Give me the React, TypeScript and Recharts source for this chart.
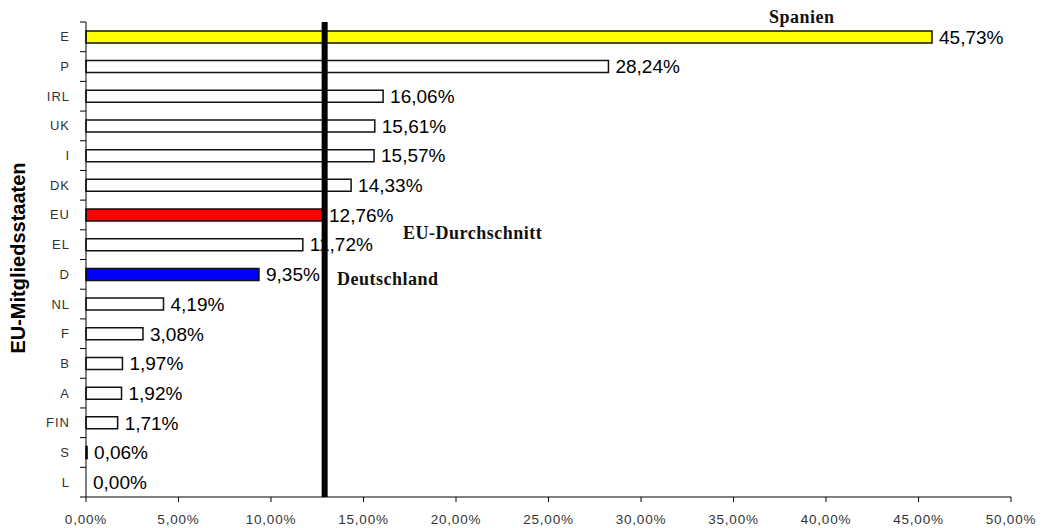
import { BarChart, Bar, XAxis, YAxis, Cell, LabelList, ReferenceLine, ReferenceDot } from "recharts";

const countries = ["E", "P", "IRL", "UK", "I", "DK", "EU", "EL", "D", "NL", "F", "B", "A", "FIN", "S", "L"];
const shares = [45.73, 28.24, 16.06, 15.61, 15.57, 14.33, 12.76, 11.72, 9.35, 4.19, 3.08, 1.97, 1.92, 1.71, 0.06, 0.0];
const fills = ["#ffff00", "#ffffff", "#ffffff", "#ffffff", "#ffffff", "#ffffff", "#ff0000", "#ffffff", "#0000ff", "#ffffff", "#ffffff", "#ffffff", "#ffffff", "#ffffff", "#ffffff", "#ffffff"];
const xTicks = [0, 5, 10, 15, 20, 25, 30, 35, 40, 45, 50];
const euAverageLine = 12.9;

const data = countries.map((c, i) => ({ land: c, wert: shares[i], fill: fills[i] }));

const W = 1045;
const H = 528;
const TOP = 22;
const BOTTOM = 31;
const half = (H - TOP - BOTTOM) / countries.length / 2;

const pct = (v: number) => v.toFixed(2).replace(".", ",") + "%";

function LandTick(props: any) {
  const { x, y, payload, index } = props;
  return (
    <g>
      <line x1={x + 10} x2={x + 16} y1={y - half} y2={y - half} stroke="#000" />
      {index === countries.length - 1 && (
        <line x1={x + 10} x2={x + 16} y1={y + half} y2={y + half} stroke="#000" />
      )}
      <text x={x} y={y} dy={4.5} textAnchor="end" fontSize={13} fill="#333" letterSpacing={1}>
        {payload.value}
      </text>
    </g>
  );
}

function PctTick(props: any) {
  const { x, y, payload } = props;
  return (
    <text x={x} y={y} dy={10} textAnchor="middle" fontSize={13.5} fill="#333" letterSpacing={0.8}>
      {pct(payload.value)}
    </text>
  );
}

const labelStyle = { fontSize: 19, fill: "#000" };

const note = {
  position: "absolute" as const,
  fontFamily: "'Liberation Serif', serif",
  fontWeight: 700,
  fontSize: 18,
  letterSpacing: 0.5,
  color: "#111",
  whiteSpace: "nowrap" as const,
  lineHeight: "20px",
};

export default function App() {
  return (
    <div style={{ position: "absolute", left: 0, top: 0, width: W, height: H, background: "#fff", fontFamily: "'Liberation Sans', Arial, sans-serif" }}>
      <BarChart width={W} height={H} data={data} layout="vertical" margin={{ top: TOP, right: 34, bottom: 0, left: 0 }} barCategoryGap="30%">
        <XAxis
          type="number"
          domain={[0, 50]}
          ticks={xTicks}
          height={BOTTOM}
          stroke="#000"
          tickSize={5}
          tickMargin={12}
          tick={<PctTick />}
          interval={0}
        />
        <YAxis
          type="category"
          dataKey="land"
          width={86}
          stroke="#000"
          tickLine={false}
          tickSize={6}
          tickMargin={10}
          tick={<LandTick />}
          interval={0}
        />
        <Bar dataKey="wert" stroke="#111" strokeWidth={1.5} isAnimationActive={false}>
          {data.map((d, i) => (
            <Cell key={i} fill={d.fill} />
          ))}
          <LabelList dataKey="wert" position="right" offset={7} formatter={(v: any) => (Number(v) > 0 ? pct(Number(v)) : "")} style={labelStyle} />
        </Bar>
        {data
          .filter((d) => d.wert === 0)
          .map((d) => (
            <ReferenceDot
              key={d.land}
              x={d.wert}
              y={d.land}
              r={0}
              stroke="none"
              label={{ value: pct(d.wert), position: "right", offset: 7, style: labelStyle }}
            />
          ))}
        <ReferenceLine x={euAverageLine} stroke="#000" strokeWidth={6} />
      </BarChart>
      <div style={{ ...note, left: 769, top: 7 }}>Spanien</div>
      <div style={{ ...note, left: 403, top: 223 }}>EU-Durchschnitt</div>
      <div style={{ ...note, left: 337, top: 269 }}>Deutschland</div>
      <div
        style={{
          position: "absolute",
          left: 18,
          top: 258,
          transform: "translate(-50%, -50%) rotate(-90deg)",
          fontWeight: 700,
          fontSize: 20,
          whiteSpace: "nowrap",
          color: "#000",
        }}
      >
        EU-Mitgliedsstaaten
      </div>
    </div>
  );
}
